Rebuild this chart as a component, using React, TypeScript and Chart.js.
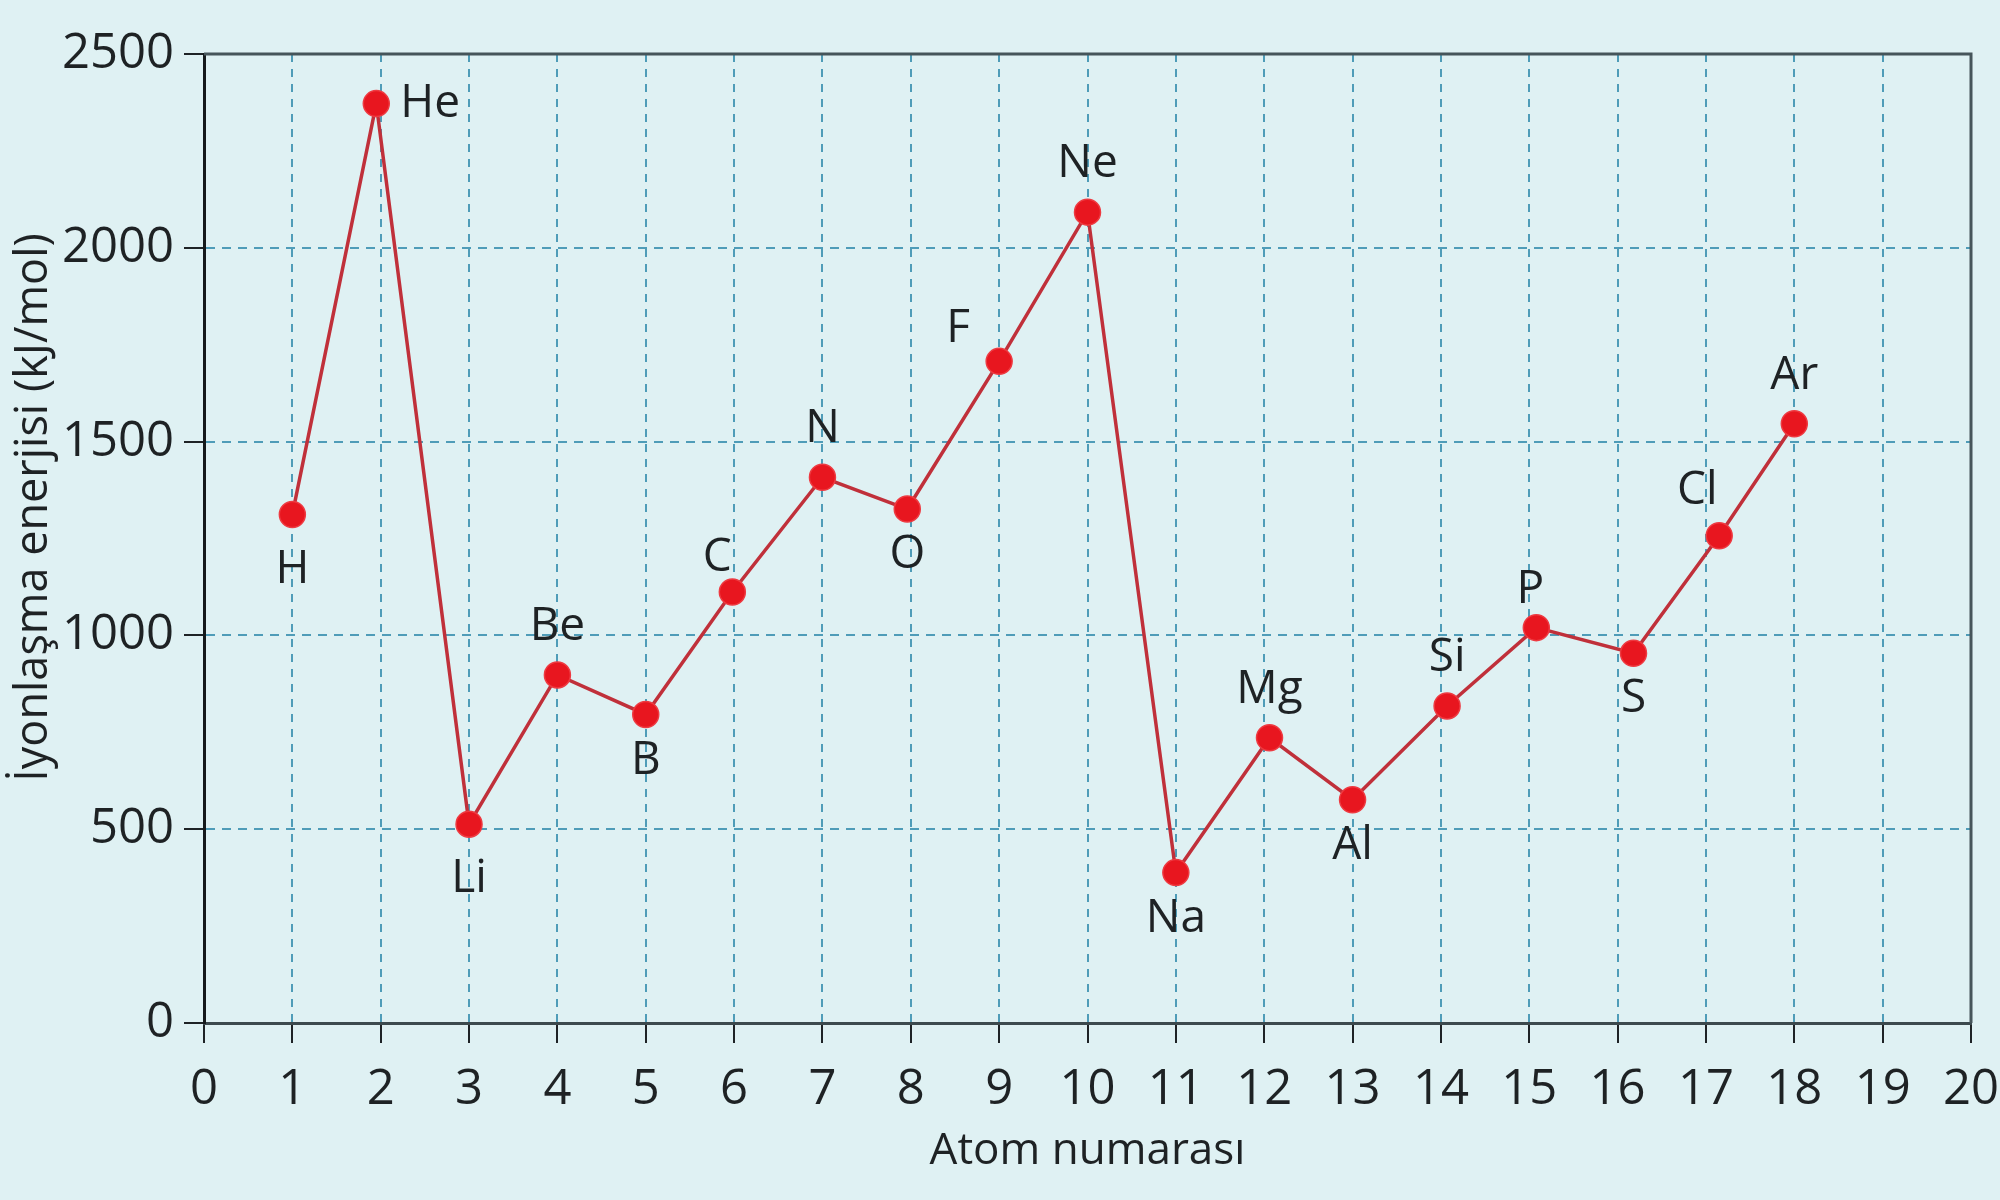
import React, { useEffect, useRef } from 'react';
import { Chart, registerables } from 'chart.js';

Chart.register(...registerables);

// ---- data ----
const symbols = ['H', 'He', 'Li', 'Be', 'B', 'C', 'N', 'O', 'F', 'Ne', 'Na', 'Mg', 'Al', 'Si', 'P', 'S', 'Cl', 'Ar'];
const atomicNumbers = [1, 1.95, 3, 4, 5, 5.98, 7, 7.96, 9, 10, 11, 12.06, 13, 14.07, 15.08, 16.18, 17.15, 18];
const ionizationEnergies = [1312, 2372, 513, 898, 796, 1112, 1408, 1326, 1707, 2092, 388, 736, 576, 818, 1020, 954, 1257, 1546];
const labelPlacement = ['belowFar', 'right', 'belowFar', 'above', 'below', 'aboveLeftNear', 'above', 'below', 'leftUp', 'above', 'below', 'above', 'below', 'above', 'aboveNear', 'below', 'aboveLeft', 'above'];
const xAxisMin = 0;
const xAxisMax = 20;
const xAxisStep = 1;
const yAxisMin = 0;
const yAxisMax = 2500;
const yAxisStep = 500;
const xTitle = 'Atom numarası';
const yTitle = 'İyonlaşma enerjisi (kJ/mol)';

// ---- styles ----
const FONT = '"Open Sans", "Noto Sans", sans-serif';
const BG = '#dff1f3';
const GRID = '#4f9cb8';
const TEXT = '#1e2224';
const placementStyle: Record<string, { dx: number; dy: number; align: CanvasTextAlign }> = {
  above: { dx: 0, dy: -48, align: 'center' },
  aboveNear: { dx: -6, dy: -38, align: 'center' },
  below: { dx: 0, dy: 46, align: 'center' },
  belowFar: { dx: 0, dy: 55, align: 'center' },
  right: { dx: 24, dy: 0, align: 'left' },
  aboveLeft: { dx: -22, dy: -45, align: 'center' },
  aboveLeftNear: { dx: -15, dy: -34, align: 'center' },
  leftUp: { dx: -41, dy: -32, align: 'center' },
};

const labelPlugin = {
  id: 'elementLabels',
  afterDatasetsDraw(chart: any) {
    const meta = chart.getDatasetMeta(0);
    const ctx = chart.ctx;
    ctx.save();
    ctx.font = `46px ${FONT}`;
    ctx.fillStyle = TEXT;
    ctx.textBaseline = 'middle';
    meta.data.forEach((pt: any, i: number) => {
      const s = placementStyle[labelPlacement[i]];
      ctx.textAlign = s.align;
      ctx.fillText(symbols[i], pt.x + s.dx, pt.y + s.dy);
    });
    ctx.restore();
  },
};

const framePlugin = {
  id: 'frame',
  afterDraw(chart: any) {
    const { ctx, chartArea } = chart;
    ctx.save();
    ctx.strokeStyle = '#46555a';
    ctx.lineWidth = 3;
    ctx.beginPath();
    ctx.moveTo(chartArea.left, chartArea.top);
    ctx.lineTo(chartArea.right, chartArea.top);
    ctx.lineTo(chartArea.right, chartArea.bottom);
    ctx.stroke();
    ctx.restore();
    // vertical axis title, centred slightly above the plot middle as in the reference
    ctx.save();
    ctx.font = `45px ${FONT}`;
    ctx.fillStyle = TEXT;
    ctx.textAlign = 'center';
    ctx.textBaseline = 'middle';
    ctx.translate(34, chartArea.top + (chartArea.bottom - chartArea.top) * 0.468);
    ctx.rotate(-Math.PI / 2);
    ctx.fillText(yTitle, 0, 0);
    ctx.restore();
  },
};

export default function App() {
  const canvasRef = useRef<HTMLCanvasElement | null>(null);

  useEffect(() => {
    document.body.style.margin = '0';
    const canvas = canvasRef.current;
    if (!canvas) return;
    const points = atomicNumbers.map((x, i) => ({ x, y: ionizationEnergies[i] }));
    const chart = new Chart(canvas, {
      type: 'line',
      data: {
        datasets: [
          {
            data: points,
            borderColor: '#c0303a',
            borderWidth: 3.5,
            pointRadius: 13,
            pointBackgroundColor: '#e8161f',
            pointBorderColor: '#ee3a41',
            pointBorderWidth: 1.5,
            tension: 0,
            fill: false,
          },
        ],
      },
      options: {
        responsive: false,
        animation: false,
        devicePixelRatio: 1,
        layout: { padding: { top: 54, right: 29, bottom: 0, left: 0 } },
        plugins: { legend: { display: false }, tooltip: { enabled: false } },
        scales: {
          x: {
            type: 'linear',
            min: xAxisMin,
            max: xAxisMax,
            ticks: {
              stepSize: xAxisStep,
              autoSkip: false,
              maxRotation: 0,
              color: TEXT,
              font: { family: FONT, size: 49 },
              padding: 18,
              callback: (v: any) => String(v),
            },
            grid: {
              color: GRID,
              lineWidth: 2,
              tickLength: 20,
              tickColor: '#1e2326',
              tickWidth: 2,
              tickBorderDash: [],
            },
            border: { display: true, color: '#3c4a4e', width: 3, dash: [8, 7] },
            title: {
              display: true,
              text: xTitle,
              color: TEXT,
              font: { family: FONT, size: 44 },
              padding: { top: 0, bottom: 22 },
            },
            afterFit(scale: any) {
              scale.height = 177;
              scale.paddingLeft = 0;
              scale.paddingRight = 0;
            },
          },
          y: {
            type: 'linear',
            min: yAxisMin,
            max: yAxisMax,
            ticks: {
              stepSize: yAxisStep,
              color: TEXT,
              font: { family: FONT, size: 49 },
              padding: 10,
              callback: (v: any) => String(v),
            },
            grid: {
              color: GRID,
              lineWidth: 2,
              tickLength: 20,
              tickColor: '#1e2326',
              tickWidth: 2,
              tickBorderDash: [],
            },
            border: { display: true, color: '#151a1c', width: 3, dash: [9, 7] },
            title: { display: false, text: yTitle },
            afterFit(scale: any) {
              scale.width = 204;
              scale.paddingTop = 0;
              scale.paddingBottom = 0;
            },
          },
        },
      },
      plugins: [labelPlugin, framePlugin],
    });
    return () => chart.destroy();
  }, []);

  return (
    <div style={{ position: 'absolute', left: 0, top: 0, width: 2000, height: 1200, background: BG }}>
      <canvas ref={canvasRef} width={2000} height={1200} style={{ display: 'block', width: 2000, height: 1200 }} />
    </div>
  );
}
